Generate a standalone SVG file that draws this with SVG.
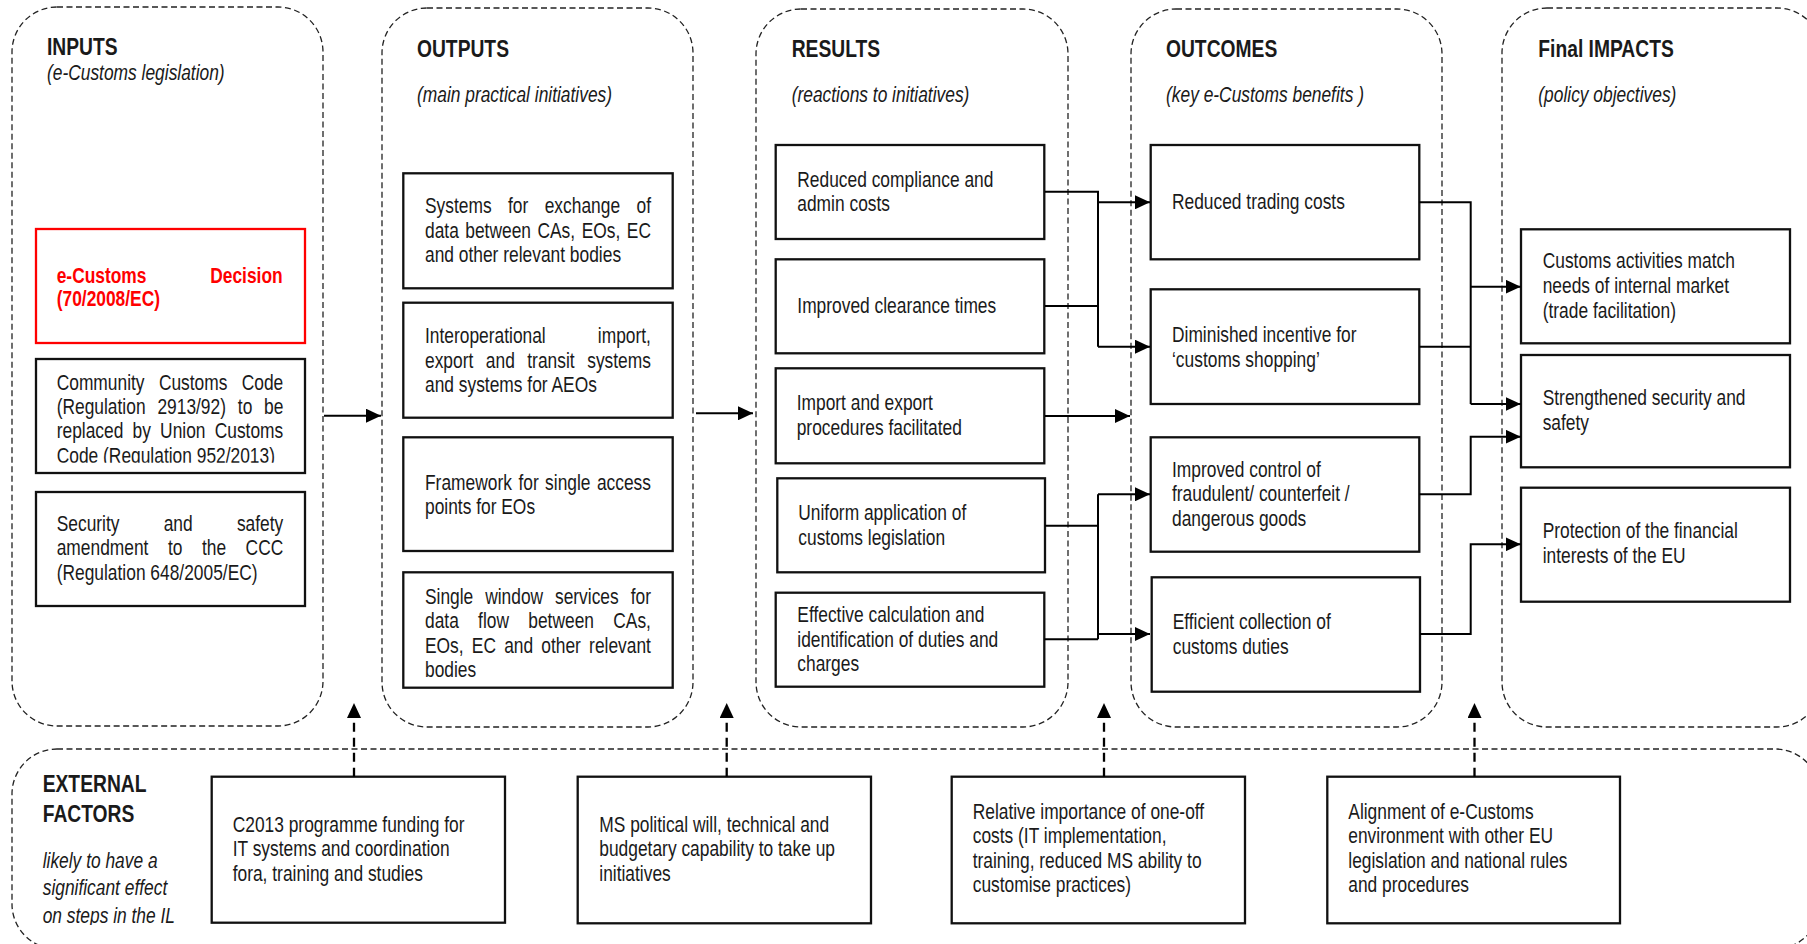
<svg xmlns="http://www.w3.org/2000/svg" width="1807" height="944" viewBox="0 0 1807 944">
<style>
.panel{fill:none;stroke:#222;stroke-width:1.3;stroke-dasharray:6 3.5}
.box{fill:#fff;stroke:#111;stroke-width:2.3}
.redbox{fill:#fff;stroke:#ff0000;stroke-width:2.3}
text{font-family:"Liberation Sans",Arial,sans-serif;font-size:21.2px;fill:#1a1a1a}
.h{font-weight:bold;font-size:23.5px}
.i{font-style:italic}
.red{fill:#ff0000;font-weight:bold}
.conn{fill:none;stroke:#000;stroke-width:2}
.dconn{fill:none;stroke:#000;stroke-width:2.3;stroke-dasharray:9 6}
</style>
<defs>
<marker id="ah" markerUnits="userSpaceOnUse" markerWidth="15" markerHeight="14" refX="15" refY="7" orient="auto"><path d="M0,0 L15,7 L0,14 Z" fill="#000"/></marker>
<clipPath id="clipCode"><rect x="30" y="350" width="290" height="112.7"/></clipPath>
<clipPath id="clipExt"><rect x="20" y="760" width="190" height="165"/></clipPath>
</defs>

<g id="panels">
<rect id="panel-inputs" class="panel" x="12" y="7" width="311" height="719" rx="45"/>
<rect id="panel-outputs" class="panel" x="382" y="8" width="311" height="719" rx="45"/>
<rect id="panel-results" class="panel" x="756" y="9" width="312" height="718" rx="45"/>
<rect id="panel-outcomes" class="panel" x="1131" y="9" width="311" height="718" rx="45"/>
<rect id="panel-impacts" class="panel" x="1502" y="8" width="320" height="719" rx="45"/>
<rect id="panel-external" class="panel" x="12" y="749" width="1808" height="200" rx="45"/>
</g>

<g id="headers">
<g transform="scale(0.82 1)">
<text class="h" x="57.32" y="55">INPUTS</text>
<text class="i" x="57.32" y="80">(e-Customs legislation)</text>
<text class="h" x="508.54" y="56.7">OUTPUTS</text>
<text class="i" x="508.54" y="101.7">(main practical initiatives)</text>
<text class="h" x="965.49" y="56.7">RESULTS</text>
<text class="i" x="965.49" y="101.7">(reactions to initiatives)</text>
<text class="h" x="1421.95" y="56.7">OUTCOMES</text>
<text class="i" x="1421.95" y="101.7">(key e-Customs benefits )</text>
<text class="h" x="1875.98" y="56.7">Final IMPACTS</text>
<text class="i" x="1875.98" y="101.7">(policy objectives)</text>
<text class="h" x="52.07" y="791.7">EXTERNAL</text>
<text class="h" x="52.07" y="821.7">FACTORS</text>
</g>
<g clip-path="url(#clipExt)">
<g transform="scale(0.82 1)">
<text class="i" x="52.07" y="868.3">likely to have a</text>
<text class="i" x="52.07" y="895">significant effect</text>
<text class="i" x="52.07" y="922.7">on steps in the IL</text>
</g>
</g>
</g>

<g id="in1">
<rect class="redbox" x="36" y="229" width="269" height="114"/>
<g transform="scale(0.82 1)">
<text class="red" y="282.7"><tspan x="69.15">e-Customs</tspan><tspan x="256.4">Decision</tspan></text>
<text class="red" x="69.15" y="306">(70/2008/EC)</text>
</g>
</g>
<g id="in2">
<rect class="box" x="36" y="359" width="269" height="114"/>
<g clip-path="url(#clipCode)">
<g transform="scale(0.82 1)">
<text y="390"><tspan x="69.15">Community</tspan><tspan x="193.78">Customs</tspan><tspan x="294.76">Code</tspan></text>
<text y="414.3"><tspan x="69.15">(Regulation</tspan><tspan x="191.95">2913/92)</tspan><tspan x="290">to</tspan><tspan x="321.95">be</tspan></text>
<text y="438.5"><tspan x="69.15">replaced</tspan><tspan x="161.71">by</tspan><tspan x="195.24">Union</tspan><tspan x="261.83">Customs</tspan></text>
<text x="69.15" y="462.7">Code (Regulation 952/2013)</text>
</g>
</g>
</g>
<g id="in3">
<rect class="box" x="36" y="492" width="269" height="114"/>
<g transform="scale(0.82 1)">
<text y="530.7"><tspan x="69.15">Security</tspan><tspan x="199.63">and</tspan><tspan x="288.9">safety</tspan></text>
<text y="555.5"><tspan x="69.15">amendment</tspan><tspan x="204.88">to</tspan><tspan x="246.34">the</tspan><tspan x="299.51">CCC</tspan></text>
<text x="69.15" y="580">(Regulation 648/2005/EC)</text>
</g>
</g>

<g id="out1">
<rect class="box" x="403.3" y="173.3" width="269.4" height="115"/>
<g transform="scale(0.82 1)">
<text y="213.3"><tspan x="518.29">Systems</tspan><tspan x="619.51">for</tspan><tspan x="664.27">exchange</tspan><tspan x="776.22">of</tspan></text>
<text y="237.7"><tspan x="518.29">data</tspan><tspan x="567.44">between</tspan><tspan x="655.49">CAs,</tspan><tspan x="709.39">EOs,</tspan><tspan x="764.39">EC</tspan></text>
<text x="518.29" y="262.3">and other relevant bodies</text>
</g>
</g>
<g id="out2">
<rect class="box" x="403.3" y="302.7" width="269.4" height="115"/>
<g transform="scale(0.82 1)">
<text y="343.3"><tspan x="518.29">Interoperational</tspan><tspan x="729.02">import,</tspan></text>
<text y="367.7"><tspan x="518.29">export</tspan><tspan x="592.44">and</tspan><tspan x="643.05">transit</tspan><tspan x="716.1">systems</tspan></text>
<text x="518.29" y="392.3">and systems for AEOs</text>
</g>
</g>
<g id="out3">
<rect class="box" x="403.3" y="437.3" width="269.4" height="113.7"/>
<g transform="scale(0.82 1)">
<text y="490"><tspan x="518.29">Framework</tspan><tspan x="632.2">for</tspan><tspan x="664.76">single</tspan><tspan x="727.93">access</tspan></text>
<text x="518.29" y="514.3">points for EOs</text>
</g>
</g>
<g id="out4">
<rect class="box" x="403.3" y="572.3" width="269.4" height="115.4"/>
<g transform="scale(0.82 1)">
<text y="604"><tspan x="518.29">Single</tspan><tspan x="591.71">window</tspan><tspan x="676.83">services</tspan><tspan x="769.15">for</tspan></text>
<text y="628.3"><tspan x="518.29">data</tspan><tspan x="583.05">flow</tspan><tspan x="644.27">between</tspan><tspan x="747.93">CAs,</tspan></text>
<text y="652.7"><tspan x="518.29">EOs,</tspan><tspan x="575.37">EC</tspan><tspan x="614.88">and</tspan><tspan x="660.12">other</tspan><tspan x="718.41">relevant</tspan></text>
<text x="518.29" y="676.7">bodies</text>
</g>
</g>

<g id="res1">
<rect class="box" x="775.7" y="145" width="268.6" height="94"/>
<g transform="scale(0.82 1)">
<text x="972.32" y="186.7">Reduced compliance and</text>
<text x="972.32" y="211">admin costs</text>
</g>
</g>
<g id="res2">
<rect class="box" x="775.7" y="259.3" width="268.6" height="94"/>
<g transform="scale(0.82 1)">
<text x="972.32" y="313.3">Improved clearance times</text>
</g>
</g>
<g id="res3">
<rect class="box" x="775.7" y="368.3" width="268.6" height="95"/>
<g transform="scale(0.82 1)">
<text x="971.59" y="410">Import and export</text>
<text x="971.59" y="435">procedures facilitated</text>
</g>
</g>
<g id="res4">
<rect class="box" x="777.3" y="478.3" width="267.7" height="94"/>
<g transform="scale(0.82 1)">
<text x="973.54" y="520">Uniform application of</text>
<text x="973.54" y="545">customs legislation</text>
</g>
</g>
<g id="res5">
<rect class="box" x="775.7" y="592.7" width="268.6" height="94"/>
<g transform="scale(0.82 1)">
<text x="972.32" y="622.3">Effective calculation and</text>
<text x="972.32" y="646.7">identification of duties and</text>
<text x="972.32" y="671">charges</text>
</g>
</g>

<g id="oc1">
<rect class="box" x="1150.7" y="145" width="268.6" height="114.3"/>
<g transform="scale(0.82 1)">
<text x="1429.27" y="209.3">Reduced trading costs</text>
</g>
</g>
<g id="oc2">
<rect class="box" x="1150.7" y="289.3" width="268.6" height="114.7"/>
<g transform="scale(0.82 1)">
<text x="1429.27" y="341.7">Diminished incentive for</text>
<text x="1429.27" y="366.7">‘customs shopping’</text>
</g>
</g>
<g id="oc3">
<rect class="box" x="1150.7" y="437.3" width="268.6" height="114.4"/>
<g transform="scale(0.82 1)">
<text x="1429.27" y="476.7">Improved control of</text>
<text x="1429.27" y="501">fraudulent/ counterfeit /</text>
<text x="1429.27" y="525.7">dangerous goods</text>
</g>
</g>
<g id="oc4">
<rect class="box" x="1151.7" y="577.3" width="268.3" height="114.4"/>
<g transform="scale(0.82 1)">
<text x="1430.12" y="629.3">Efficient collection of</text>
<text x="1430.12" y="654">customs duties</text>
</g>
</g>

<g id="imp1">
<rect class="box" x="1521" y="229.3" width="269" height="114"/>
<g transform="scale(0.82 1)">
<text x="1881.34" y="268.3">Customs activities match</text>
<text x="1881.34" y="293.3">needs of internal market</text>
<text x="1881.34" y="318.3">(trade facilitation)</text>
</g>
</g>
<g id="imp2">
<rect class="box" x="1521" y="355" width="269" height="112.3"/>
<g transform="scale(0.82 1)">
<text x="1881.34" y="405">Strengthened security and</text>
<text x="1881.34" y="430">safety</text>
</g>
</g>
<g id="imp3">
<rect class="box" x="1521" y="487.7" width="269" height="114"/>
<g transform="scale(0.82 1)">
<text x="1881.34" y="538.3">Protection of the financial</text>
<text x="1881.34" y="563.3">interests of the EU</text>
</g>
</g>

<g id="ext1">
<rect class="box" x="211.7" y="776.7" width="293.3" height="146"/>
<g transform="scale(0.82 1)">
<text x="283.78" y="831.7">C2013 programme funding for</text>
<text x="283.78" y="856">IT systems and coordination</text>
<text x="283.78" y="880.7">fora, training and studies</text>
</g>
</g>
<g id="ext2">
<rect class="box" x="577.7" y="776.7" width="293.3" height="146.6"/>
<g transform="scale(0.82 1)">
<text x="730.85" y="831.7">MS political will, technical and</text>
<text x="730.85" y="856">budgetary capability to take up</text>
<text x="730.85" y="880.7">initiatives</text>
</g>
</g>
<g id="ext3">
<rect class="box" x="951.7" y="776.7" width="293.3" height="146.6"/>
<g transform="scale(0.82 1)">
<text x="1186.22" y="819.3">Relative importance of one-off</text>
<text x="1186.22" y="843.3">costs (IT implementation,</text>
<text x="1186.22" y="868.3">training, reduced MS ability to</text>
<text x="1186.22" y="892.3">customise practices)</text>
</g>
</g>
<g id="ext4">
<rect class="box" x="1327.3" y="776.7" width="292.7" height="146.6"/>
<g transform="scale(0.82 1)">
<text x="1644.27" y="819.3">Alignment of e-Customs</text>
<text x="1644.27" y="843.3">environment with other EU</text>
<text x="1644.27" y="868.3">legislation and national rules</text>
<text x="1644.27" y="892.3">and procedures</text>
</g>
</g>

<g id="connectors">
<path class="conn" d="M324,415.7 H381" marker-end="url(#ah)"/>
<path class="conn" d="M696,413.3 H753" marker-end="url(#ah)"/>
<path class="conn" d="M1045,191.7 H1098 V346.7 M1045,306 H1098"/>
<path class="conn" d="M1098,202.3 H1150" marker-end="url(#ah)"/>
<path class="conn" d="M1098,346.7 H1150" marker-end="url(#ah)"/>
<path class="conn" d="M1045,416 H1130" marker-end="url(#ah)"/>
<path class="conn" d="M1045,525.7 H1098 M1044.3,639.3 H1098 M1098,494.3 V639.3"/>
<path class="conn" d="M1098,494.3 H1150" marker-end="url(#ah)"/>
<path class="conn" d="M1098,634 H1150" marker-end="url(#ah)"/>
<path class="conn" d="M1419.3,202.3 H1470.7 V404 M1419.3,346.7 H1470.7"/>
<path class="conn" d="M1470.7,286.7 H1520.7" marker-end="url(#ah)"/>
<path class="conn" d="M1470.7,404 H1520.7" marker-end="url(#ah)"/>
<path class="conn" d="M1419.3,494.3 H1470.7 V436.7 H1520.7" marker-end="url(#ah)"/>
<path class="conn" d="M1420,634 H1470.7 V544.3 H1520.7" marker-end="url(#ah)"/>
<path class="dconn" d="M354,776.7 V703" marker-end="url(#ah)"/>
<path class="dconn" d="M726.7,776.7 V703" marker-end="url(#ah)"/>
<path class="dconn" d="M1104,776.7 V703" marker-end="url(#ah)"/>
<path class="dconn" d="M1474.5,776.7 V703" marker-end="url(#ah)"/>
</g>
</svg>
